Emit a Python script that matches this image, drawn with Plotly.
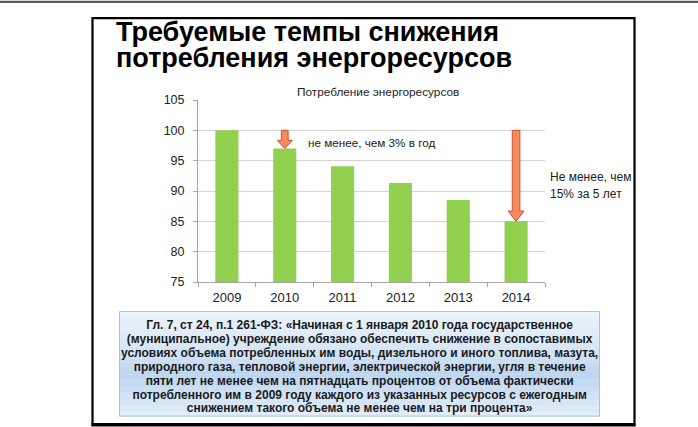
import plotly.graph_objects as go

years = ["2009", "2010", "2011", "2012", "2013", "2014"]
consumption = [100, 97, 94.1, 91.3, 88.5, 85]
y_ticks = [75, 80, 85, 90, 95, 100, 105]

title_lines = ["Требуемые темпы снижения", "потребления энергоресурсов"]
chart_title = "Потребление энергоресурсов"
note_year = "не менее, чем 3% в год"
note_total = ["Не менее, чем", "15% за 5 лет"]
law_lines = [
    "Гл. 7, ст 24, п.1 261-ФЗ: «Начиная с 1 января 2010 года государственное",
    "(муниципальное) учреждение обязано обеспечить снижение в сопоставимых",
    "условиях объема потребленных им воды, дизельного и иного топлива, мазута,",
    "природного газа, тепловой энергии, электрической энергии, угля в течение",
    "пяти лет не менее чем на пятнадцать процентов от объема фактически",
    "потребленного им в 2009 году каждого из указанных ресурсов с ежегодным",
    "снижением такого объема не менее чем на три процента»",
]

FW, FH = 698, 427
L, R, T, B = 198, 545, 99.5, 282
W, H = R - L, B - T


def px(x):
    return (x - L) / W


def py(y):
    return (B - y) / H


FONT = "Liberation Sans, Arial, sans-serif"


def sized(lines, size, bold=False):
    out = []
    for t in lines:
        s = f"<b>{t}</b>" if bold else t
        out.append(f"<span style='font-size:{size}px'>{s}</span>")
    return "<br>".join(out)


fig = go.Figure()
fig.add_trace(go.Bar(
    x=years, y=consumption, marker=dict(color="#92D050", line=dict(width=0)),
    width=0.4, hoverinfo="skip",
))

shapes = []
annotations = []

# top line of page
shapes.append(dict(type="rect", xref="paper", yref="paper", x0=px(0), x1=px(FW),
                   y0=py(0), y1=py(2.2), fillcolor="#5a5a5a", line=dict(width=0), layer="above"))
# slide frame
shapes.append(dict(type="rect", xref="paper", yref="paper", x0=px(92.5), x1=px(634.5),
                   y0=py(17.5), y1=py(425), fillcolor="rgba(0,0,0,0)",
                   line=dict(color="black", width=2.2), layer="below"))
shapes.append(dict(type="rect", xref="paper", yref="paper", x0=px(91.5), x1=px(635.5),
                   y0=py(423.5), y1=py(427), fillcolor="black", line=dict(width=0), layer="above"))

# gradient text box
bx0, bx1, by0, by1 = 119.5, 599.5, 311.5, 416.5
stops = [(0.0, (236, 243, 251)), (0.35, (214, 230, 246)), (0.6, (188, 213, 240)), (1.0, (226, 237, 249))]


def col(t):
    for (t0, c0), (t1, c1) in zip(stops[:-1], stops[1:]):
        if t <= t1:
            f = (t - t0) / (t1 - t0) if t1 > t0 else 0
            return "rgb(%d,%d,%d)" % tuple(round(a + (b - a) * f) for a, b in zip(c0, c1))
    return "rgb(%d,%d,%d)" % stops[-1][1]


N = 40
for i in range(N):
    ya = by0 + (by1 - by0) * i / N
    yb = by0 + (by1 - by0) * (i + 1) / N + 0.3
    shapes.append(dict(type="rect", xref="paper", yref="paper", x0=px(bx0), x1=px(bx1),
                       y0=py(yb), y1=py(ya), fillcolor=col((i + 0.5) / N),
                       line=dict(width=0), layer="below"))
shapes.append(dict(type="rect", xref="paper", yref="paper", x0=px(bx0), x1=px(bx1),
                   y0=py(by1), y1=py(by0), fillcolor="rgba(0,0,0,0)",
                   line=dict(color="#A7C1DE", width=1), layer="below"))


# arrows (x in pixels around category centre, y in data units)
def arrow(idx, y_top, y_tip, shaft, head, head_h):
    yh = y_tip + head_h
    path = (f"M {-shaft},{y_top} L {shaft},{y_top} L {shaft},{yh} L {head},{yh} "
            f"L 0,{y_tip} L {-head},{yh} L {-shaft},{yh} Z")
    return dict(type="path", xref="x", yref="y", xsizemode="pixel", xanchor=idx,
                path=path, fillcolor="#F7895E", line=dict(color="#C9552F", width=1), layer="above")


shapes.append(arrow(1, consumption[0], consumption[1], 3.4, 7.5, 1.35))
shapes.append(arrow(5, consumption[0], consumption[5], 3.8, 8.0, 1.7))

# titles
annotations.append(dict(xref="paper", yref="paper", x=px(114), y=py(44), text=sized(title_lines, 27, True),
                        showarrow=False, xanchor="left", yanchor="middle", align="left",
                        font=dict(family=FONT, size=20, color="black")))
annotations.append(dict(xref="paper", yref="paper", x=px(378), y=py(91.5), text=chart_title,
                        showarrow=False, xanchor="center", yanchor="middle",
                        font=dict(family=FONT, size=11.8, color="#222")))
annotations.append(dict(xref="paper", yref="paper", x=px(305.5), y=py(142.5), text=note_year,
                        showarrow=False, xanchor="left", yanchor="middle",
                        font=dict(family=FONT, size=11.7, color="#222")))
annotations.append(dict(xref="paper", yref="paper", x=px(548), y=py(185.5), text=sized(note_total, 12),
                        showarrow=False, xanchor="left", yanchor="middle", align="left",
                        font=dict(family=FONT, size=12.7, color="#222")))
annotations.append(dict(xref="paper", yref="paper", x=px(359.5), y=py(366.5), text=sized(law_lines, 12, True),
                        showarrow=False, xanchor="center", yanchor="middle", align="center",
                        font=dict(family=FONT, size=10.7, color="#1a1a1a")))

fig.update_layout(
    width=FW, height=FH,
    margin=dict(l=L, r=FW - R, t=T, b=FH - B, pad=0),
    paper_bgcolor="white", plot_bgcolor="white",
    showlegend=False, bargap=0.6,
    shapes=shapes, annotations=annotations,
    font=dict(family=FONT, color="#222"),
)
fig.update_xaxes(type="category", tickson="boundaries", ticks="outside", ticklen=4,
                 tickcolor="#A6A6A6", showline=True, linecolor="#A6A6A6", linewidth=1,
                 showgrid=False, tickfont=dict(family=FONT, size=13, color="#222"),
                 ticklabelstandoff=3, fixedrange=True)
fig.update_yaxes(range=[75, 105], tickvals=y_ticks, ticks="outside", ticklen=4,
                 tickcolor="#A6A6A6", showline=True, linecolor="#A6A6A6", linewidth=1,
                 showgrid=True, gridcolor="#D4D4D4", gridwidth=1, zeroline=False,
                 tickfont=dict(family=FONT, size=12.5, color="#222"), ticklabelstandoff=6,
                 fixedrange=True)

fig.write_html("out.html", config={"displayModeBar": False},
               post_script="document.body.style.margin='0';document.body.style.overflow='hidden';")
